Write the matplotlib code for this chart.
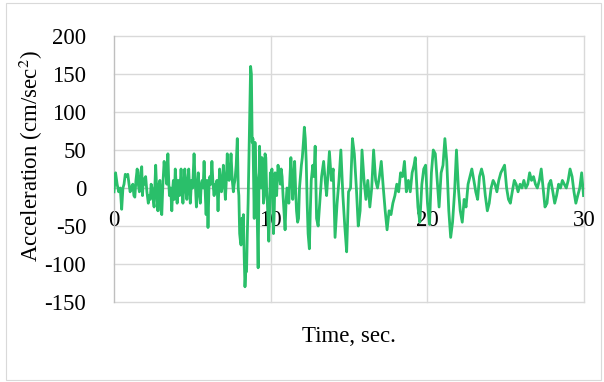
import matplotlib
matplotlib.use("Agg")
import matplotlib.pyplot as plt
from matplotlib.patches import Rectangle

time_s = [
    0.00, 0.10, 0.20, 0.30, 0.40, 0.49, 0.57, 0.64, 0.72, 0.79, 0.88, 0.96, 1.03, 1.10, 1.20, 1.27,
    1.33, 1.40, 1.48, 1.55, 1.62, 1.70, 1.77, 1.82, 1.87, 1.95, 2.02, 2.10, 2.19, 2.25, 2.31, 2.37,
    2.43, 2.50, 2.56, 2.66, 2.73, 2.80, 2.87, 2.93, 3.00, 3.05, 3.12, 3.20, 3.25, 3.29, 3.37, 3.44,
    3.50, 3.54, 3.62, 3.69, 3.75, 3.79, 3.85, 3.91, 3.97, 4.03, 4.10, 4.18, 4.23, 4.28, 4.34, 4.40,
    4.46, 4.52, 4.58, 4.65, 4.71, 4.77, 4.82, 4.87, 4.95, 5.02, 5.11, 5.18, 5.26, 5.32, 5.38, 5.44,
    5.51, 5.57, 5.63, 5.69, 5.75, 5.82, 5.88, 5.94, 6.00, 6.06, 6.12, 6.18, 6.25, 6.32, 6.39, 6.44,
    6.49, 6.57, 6.64, 6.70, 6.74, 6.80, 6.86, 6.92, 6.98, 7.05, 7.11, 7.17, 7.23, 7.29, 7.35, 7.41,
    7.47, 7.55, 7.62, 7.67, 7.72, 7.80, 7.87, 7.93, 7.97, 8.02, 8.07, 8.11, 8.16, 8.21, 8.26, 8.31,
    8.36, 8.41, 8.46, 8.51, 8.56, 8.62, 8.67, 8.72, 8.77, 8.82, 8.87, 8.92, 8.95, 9.00, 9.05, 9.10,
    9.20, 9.25, 9.29, 9.34, 9.39, 9.44, 9.49, 9.54, 9.59, 9.64, 9.69, 9.74, 9.79, 9.84, 9.88, 9.93,
    9.98, 10.03, 10.08, 10.13, 10.18, 10.23, 10.28, 10.33, 10.38, 10.42, 10.47, 10.52, 10.57, 10.62,
    10.67, 10.73, 10.79, 10.85, 10.92, 10.98, 11.04, 11.10, 11.16, 11.22, 11.29, 11.35, 11.41, 11.47,
    11.53, 11.59, 11.65, 11.72, 11.78, 11.84, 11.90, 11.96, 12.02, 12.09, 12.15, 12.21, 12.27, 12.33,
    12.39, 12.47, 12.53, 12.59, 12.64, 12.69, 12.76, 12.84, 12.88, 12.93, 13.03,
    13.13, 13.25, 13.38, 13.50, 13.57, 13.75, 13.87, 13.99, 14.11, 14.24, 14.36, 14.48, 14.61, 14.73,
    14.85, 14.97, 15.10, 15.22, 15.34, 15.47, 15.59, 15.71, 15.83, 15.96, 16.08, 16.20, 16.33, 16.45,
    16.57, 16.70, 16.82, 16.94, 17.06, 17.19, 17.31, 17.43, 17.56, 17.68, 17.80, 17.93, 18.05, 18.17,
    18.29, 18.42, 18.54, 18.66, 18.79, 18.91, 19.03, 19.15, 19.23, 19.40, 19.52, 19.65, 19.77, 19.89,
    20.01, 20.14, 20.26, 20.38, 20.51, 20.63, 20.75, 20.88, 21.00, 21.12, 21.24, 21.37, 21.49, 21.61,
    21.74, 21.86, 21.98, 22.10, 22.23, 22.35, 22.47, 22.60, 22.72, 22.84, 22.97, 23.09, 23.21, 23.33,
    23.46, 23.58, 23.70, 23.83, 23.95, 24.07, 24.20, 24.32, 24.44, 24.56, 24.69, 24.81, 24.93, 25.06,
    25.18, 25.30, 25.42, 25.55, 25.67, 25.79, 25.92, 26.04, 26.16, 26.29, 26.41, 26.53, 26.65, 26.78,
    26.90, 27.02, 27.15, 27.27, 27.39, 27.51, 27.64, 27.76, 27.88, 28.01, 28.13, 28.25, 28.38, 28.50,
    28.62, 28.74, 28.87, 28.99, 29.11, 29.24, 29.36, 29.48, 29.60, 29.73, 29.85, 29.97,
]

accel = [
    -5, 20, 5, -5, 0, -28, 0, 5, 18, 15, 18, 5, -5, 0, 5, -10,
    -12, 10, 25, 5, -5, 20, 28, -10, 12, 5, 15, -5, -20, -10, -15, 5,
    0, -15, -25, 30, -5, -30, 5, 10, -30, -35, 5, 35, 20, 25, 5, 45,
    5, -10, 0, -30, 0, 10, -15, 25, 5, -20, 10, -10, 5, 25, 0, -20,
    5, 25, 0, -15, 10, 25, 0, -20, 10, 0, 45, 10, -25, 0, 20, -5,
    -20, 5, 10, 0, 35, -5, -35, 10, -52, 0, 15, 5, 35, 5, -10, 5,
    -5, 10, -30, 5, 25, 10, -5, 5, 30, 5, -15, 10, 45, 15, 10, 25,
    45, 10, -5, 5, 10, 30, 65, 0, -10, -60, -70, -75, -40, -50, -35, -90,
    -130, -110, -110, -60, -20, 50, 110, 160, 150, 60, 65, 0, -40, 60, 20, 10,
    -105, 0, 55, 20, 0, 40, 35, -20, -10, 45, 40, 0, -20, -50, -70, -30,
    20, 10, 25, -20, -60, -30, 20, 5, -10, 10, 30, 20, 15, 5,
    25, 15, -10, -30, -55, -20, 0, -10, -20, 10, 40, 15, -15, 10,
    35, 0, -30, -45, -40, 0, 15, 30, 40, 60, 80, 65, 35, -20,
    -60, -80, -30, 10, 20, 30, 15, 55, 10, -40, -50,
    -20, 15, 35, 5, -10, 48, 10, 25, -65, -20, 10, 50, -10, -50,
    -84, -5, 0, 65, 45, 0, -50, -30, 50, 10, -15, 10, -25, 0,
    50, 10, 0, 15, 35, 0, -30, -55, -30, -35, -20, -10, 5, -5,
    20, 15, 35, -5, 10, -5, 20, 30, 40, -25, -45, 5, 25, 30,
    -20, -48, 20, 50, 45, 10, -25, 20, 30, 65, 35, -30, -65, -45,
    -5, 50, 0, -30, -45, -15, -25, 5, 15, 25, 10, -5, -15, 15,
    25, 15, -10, -30, -20, 0, 10, 5, -5, 10, 20, 25, 30, 0,
    -15, -20, -5, 10, 5, -5, 5, 0, 10, 0, 5, 20, 10, 15,
    5, 0, 10, 25, 0, -25, -20, 5, 10, -5, -20, -10, 5, 0,
    10, 5, 0, 10, 25, 15, -5, -20, -10, 0, 20, -10,
]

x_ticks = [0, 10, 20, 30]
y_ticks = [-150, -100, -50, 0, 50, 100, 150, 200]

serif = ["Liberation Serif", "DejaVu Serif"]
fs = 16.5
plt.rcParams["font.family"] = serif
plt.rcParams["font.size"] = fs
plt.rcParams["mathtext.fontset"] = "stix"

W, H = 604, 382
fig = plt.figure(figsize=(W / 100, H / 100), dpi=100)
fig.patch.set_facecolor("white")
fig.patches.append(Rectangle((6 / W, 2 / H), 595 / W, 377 / H, transform=fig.transFigure,
                             fill=False, edgecolor="#D9D9D9", linewidth=0.8))

ax = fig.add_axes([114 / W, 1 - 302 / H, 470 / W, 266 / H])

ax.set_xlim(0, 30)
ax.set_ylim(-150, 200)
ax.set_xticks(x_ticks)
ax.set_yticks(y_ticks)
ax.set_xticklabels([str(v) for v in x_ticks])
ax.set_yticklabels([str(v) for v in y_ticks])
ax.tick_params(length=0, labelsize=fs, colors="black")
ax.tick_params(axis="y", pad=20)
ax.tick_params(axis="x", pad=16)

for s in ["top", "right"]:
    ax.spines[s].set_visible(False)
ax.spines["bottom"].set_position(("data", 0))
ax.spines["bottom"].set_color("#BFBFBF")
ax.spines["bottom"].set_linewidth(1.0)
ax.spines["left"].set_color("#BFBFBF")
ax.spines["left"].set_linewidth(1.0)

for y in y_ticks:
    if y != 0:
        ax.axhline(y, color="#D9D9D9", linewidth=1.0, zorder=0, clip_on=False)
for x in x_ticks[1:]:
    ax.axvline(x, color="#D9D9D9", linewidth=1.0, zorder=0, clip_on=False)

ax.plot(time_s, accel, color="#2ABF6A", linewidth=2.0, zorder=3)

fig.text(349 / W, 1 - 337 / H, "Time, sec.", fontsize=fs, ha="center", va="center")
fig.text(31 / W, 1 - 156 / H, "Acceleration (cm/sec$^{2}$)", fontsize=fs,
         ha="center", va="center", rotation=90)

fig.savefig("out.png", dpi=100)
